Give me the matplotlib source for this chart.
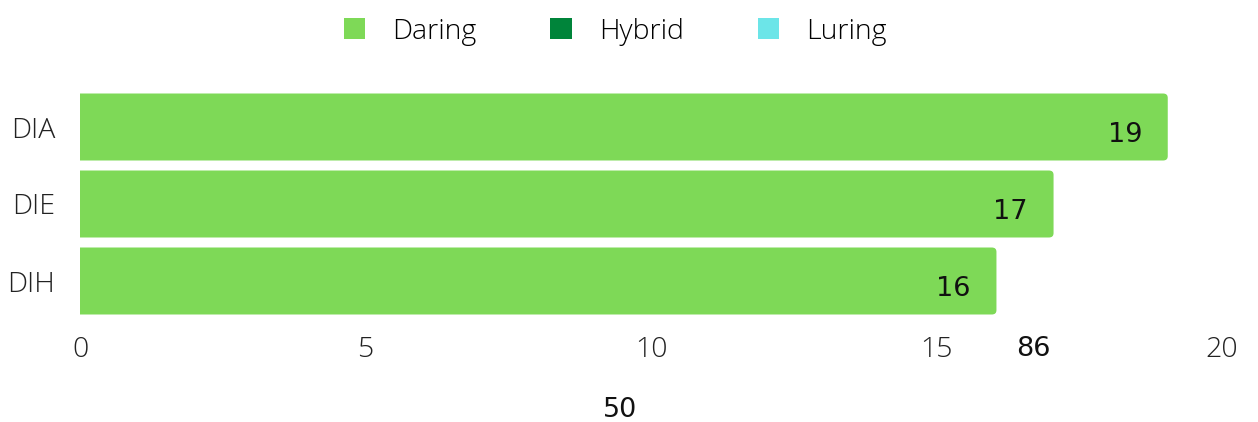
import matplotlib.pyplot as plt
from matplotlib.patches import FancyBboxPatch, Patch

# data
categories = ["DIA", "DIE", "DIH"]
daring = [19, 17, 16]
series_names = ["Daring", "Hybrid", "Luring"]
series_colors = ["#7ED957", "#00843A", "#6CE5E8"]
x_ticks = [0, 5, 10, 15, 20]
stray_labels = [("86", 16.7, -0.88), ("50", 9.45, -1.67)]

plt.rcParams['font.family'] = ['Open Sans', 'DejaVu Sans']
plt.rcParams['font.weight'] = 'light'

fig = plt.figure(figsize=(12.58, 4.22), dpi=100)
ax = fig.add_axes([80 / 1258, (422 - 319.5) / 422, 1142 / 1258, 231 / 422])

ypos = [2, 1, 0]
bar_h = 0.87
num_font = dict(fontsize=19.5, family=["DejaVu Sans"], color="#111111",
                fontweight="normal")
for y, v in zip(ypos, daring):
    p = FancyBboxPatch((-0.3, y - bar_h / 2), v + 0.35, bar_h,
                       boxstyle="round,pad=0,rounding_size=0.08",
                       mutation_aspect=0.7,
                       facecolor=series_colors[0], edgecolor="none")
    ax.add_patch(p)
    ax.text(v - 0.4, y - 0.11, str(v), ha="right", va="center", **num_font)

ax.set_xlim(0, 20)
ax.set_ylim(-0.5, 2.5)
ax.set_yticks(ypos)
ax.set_yticklabels(categories)
ax.set_xticks(x_ticks)
ax.set_xticklabels([str(t) for t in x_ticks])
ax.tick_params(length=0, labelsize=20.5, colors="#222222")
ax.tick_params(axis="y", pad=18)
ax.tick_params(axis="x", pad=12)
for s in ax.spines.values():
    s.set_visible(False)

for txt, xv, yv in stray_labels:
    ax.text(xv, yv, txt, ha="center", va="center", clip_on=False, **num_font)

handles = [Patch(facecolor=c, edgecolor="none") for c in series_colors]
fig.legend(handles, series_names, loc="center", bbox_to_anchor=(0.489, 0.925),
           ncol=3, frameon=False, fontsize=20.5, handlelength=0.75, handleheight=0.75,
           handletextpad=0.95, columnspacing=2.6)

fig.savefig("out.png", dpi=100)
